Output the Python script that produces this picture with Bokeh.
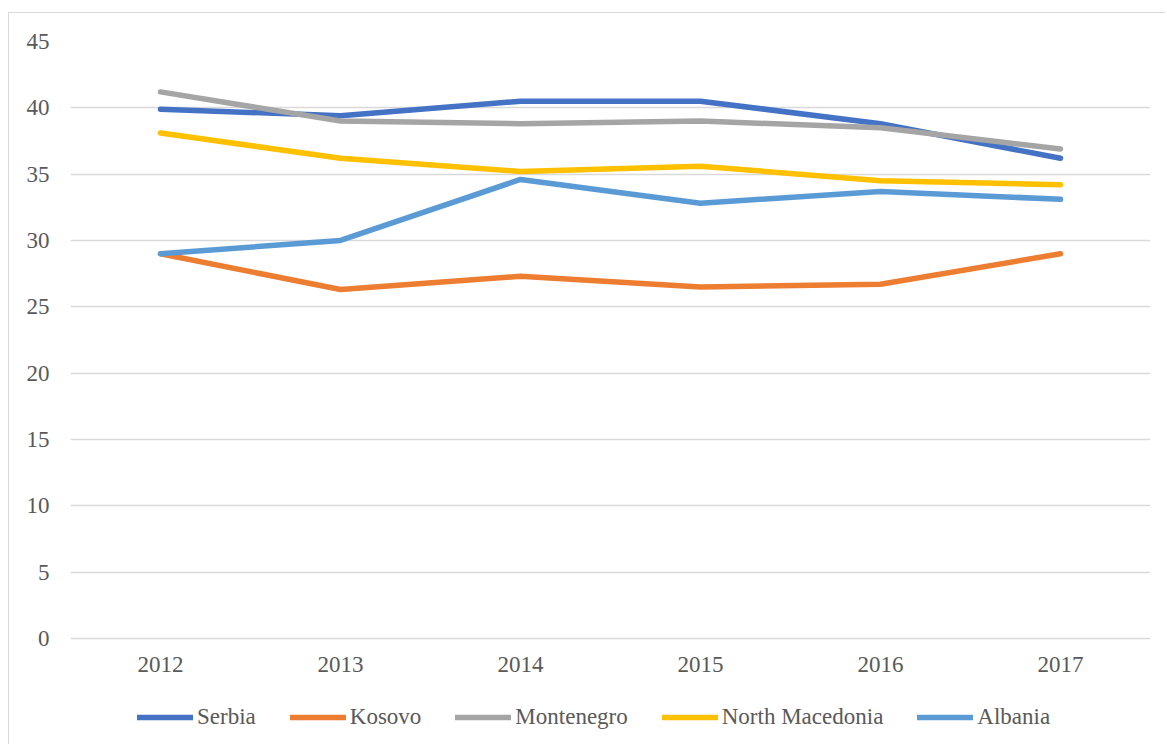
from bokeh.plotting import figure
from bokeh.models import Range1d, Legend, LegendItem, FixedTicker
from bokeh.embed import file_html
from bokeh.resources import INLINE

years = ["2012", "2013", "2014", "2015", "2016", "2017"]
serbia = [39.9, 39.4, 40.5, 40.5, 38.8, 36.2]
kosovo = [29.0, 26.3, 27.3, 26.5, 26.7, 29.0]
montenegro = [41.2, 39.0, 38.8, 39.0, 38.5, 36.9]
north_macedonia = [38.1, 36.2, 35.2, 35.6, 34.5, 34.2]
albania = [29.0, 30.0, 34.6, 32.8, 33.7, 33.1]
y_ticks = [0, 5, 10, 15, 20, 25, 30, 35, 40, 45]

series = [
    ("Serbia", serbia, "#4472C4"),
    ("Kosovo", kosovo, "#ED7D31"),
    ("Montenegro", montenegro, "#A5A5A5"),
    ("North Macedonia", north_macedonia, "#FFC000"),
    ("Albania", albania, "#5B9BD5"),
]

FONT = "Liberation Serif"
TXT = "#595959"

# frame extends below 0 so that the legend sits inside it
p = figure(x_range=years, y_range=Range1d(-8, 45),
           frame_width=1080, frame_height=703,
           output_backend="svg", toolbar_location=None,
           min_border_left=61, min_border_right=15, min_border_top=28,
           min_border_bottom=0, margin=(12, 0, 0, 8))
p.styles = {"border-left": "1px solid #D9D9D9", "border-top": "1px solid #D9D9D9"}
p.outline_line_color = None
p.background_fill_color = "white"
p.border_fill_color = "white"

items = []
for name, vals, col in series:
    r = p.line(years, vals, line_color=col, line_width=5.5, line_cap="round",
               line_join="round")
    items.append(LegendItem(label=name, renderers=[r]))

p.yaxis.ticker = FixedTicker(ticks=y_ticks)
p.xaxis.fixed_location = 0
for ax in (p.xaxis, p.yaxis):
    ax.axis_line_color = None
    ax.major_tick_line_color = None
    ax.minor_tick_line_color = None
    ax.major_tick_out = 0
    ax.major_tick_in = 0
    ax.minor_tick_out = 0
    ax.major_label_text_font = FONT
    ax.major_label_text_font_size = "23px"
    ax.major_label_text_color = TXT
p.yaxis.major_label_standoff = 21
p.xaxis.major_label_standoff = 19

p.xgrid.grid_line_color = None
p.ygrid.grid_line_color = "#D9D9D9"
p.ygrid.grid_line_width = 1.5

legend = Legend(items=items, orientation="horizontal", location=(67, 14),
                glyph_width=56, glyph_height=20, label_standoff=4, spacing=34,
                padding=0, margin=0, border_line_color=None,
                background_fill_alpha=0,
                label_text_font=FONT, label_text_font_size="23px",
                label_text_color=TXT)
p.add_layout(legend, "center")

open("out.html", "w").write(file_html(p, INLINE))
